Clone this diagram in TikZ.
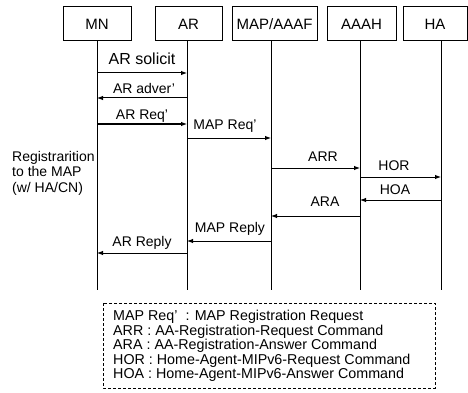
\documentclass[tikz,border=0pt]{standalone}
\usepackage{fontspec}
\setmainfont{Liberation Sans}
\usetikzlibrary{arrows.meta,calc}
\begin{document}
\begin{tikzpicture}[x=1pt,y=-1pt,
 ent/.style={draw,line width=1pt,minimum height=34pt,inner sep=0pt,font=\fontsize{15}{16}\selectfont},
 life/.style={line width=1pt},
 msg/.style={line width=1pt,-{Latex[length=6pt,width=4.5pt]}},
 lbl/.style={inner sep=0pt,font=\fontsize{14}{15}\selectfont,anchor=base},
 big/.style={lbl,font=\fontsize{16}{17}\selectfont},
]
\useasboundingbox (0,0) rectangle (468,393);
% entities
\node[ent,minimum width=68pt] (mn) at (97,24) {MN};
\node[ent,minimum width=67pt] (ar) at (188.5,24) {AR};
\node[ent,minimum width=85pt] (map) at (274.5,24) {MAP/AAAF};
\node[ent,minimum width=69pt] (aaah) at (361.5,24) {AAAH};
\node[ent,minimum width=64pt] (ha) at (435,24) {HA};
% lifelines
\coordinate (mnT) at (97,41);   \coordinate (mnB) at (97,290);
\coordinate (arT) at (187,41);  \coordinate (arB) at (187,290);
\coordinate (mapT) at (271,41); \coordinate (mapB) at (271,290);
\coordinate (aaT) at (360,41);  \coordinate (aaB) at (360,290);
\coordinate (haT) at (441,41);  \coordinate (haB) at (441,290);
\draw[life] (mnT) -- (mnB);
\draw[life] (arT) -- (arB);
\draw[life] (mapT) -- (mapB);
\draw[life] (aaT) -- (aaB);
\draw[life] (haT) -- (haB);
% messages
\draw[msg] (mnT |- 0,73) -- (arT |- 0,73);
\node[big] (l1) at (142,65) {AR solicit};
\draw[msg] (arT |- 0,98) -- (mnT |- 0,98);
\node[lbl] (l2) at (144,94) {AR adver’};
\draw[msg] (mnT |- 0,124) -- (arT |- 0,124);
\node[lbl] (l3) at (142,120) {AR Req’};
\draw[msg] (arT |- 0,138) -- (mapT |- 0,138);
\node[lbl] (l4) at (225,129) {MAP Req’};
\draw[msg] (mapT |- 0,168) -- (aaT |- 0,168);
\node[lbl] (l5) at (323,161) {ARR};
\draw[msg] (aaT |- 0,177) -- (haT |- 0,177);
\node[lbl] (l6) at (394,170) {HOR};
\draw[msg] (haT |- 0,200) -- (aaT |- 0,200);
\node[lbl] (l7) at (395,194) {HOA};
\draw[msg] (aaT |- 0,216) -- (mapT |- 0,216);
\node[lbl] (l8) at (325,206) {ARA};
\draw[msg] (mapT |- 0,241) -- (arT |- 0,241);
\node[lbl] (l9) at (230,232) {MAP Reply};
\draw[msg] (arT |- 0,253) -- (mnT |- 0,253);
\node[lbl] (l10) at (142,246) {AR Reply};
% side note (base anchor = last line)
\node[inner sep=0pt,anchor=base west,align=left,font=\fontsize{14}{15.5}\selectfont] (side) at (12,192)
 {Registrarition\\to the MAP\\(w/ HA/CN)};
% legend
\draw[line width=1pt,dash pattern=on 3pt off 2pt] (103,303) rectangle (435,388);
\node[inner sep=0pt,anchor=base west,align=left,font=\fontsize{14.3}{14.4}\selectfont] (leg) at (113,378.5)
 {MAP Req’ \ : MAP Registration Request\\
  ARR : AA-Registration-Request Command\\
  ARA : AA-Registration-Answer Command\\
  HOR : Home-Agent-MIPv6-Request Command\\
  HOA : Home-Agent-MIPv6-Answer Command};
\end{tikzpicture}
\end{document}
